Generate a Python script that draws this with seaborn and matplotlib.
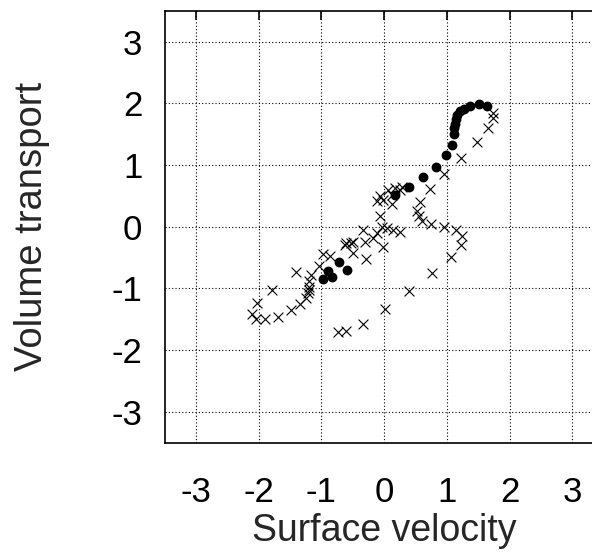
import matplotlib
matplotlib.use("Agg")
import matplotlib.pyplot as plt
import seaborn as sns
import pandas as pd

# Filled circles (surface velocity, volume transport)
dot_x = [1.64, 1.51, 1.37, 1.27, 1.21, 1.17, 1.14, 1.13, 1.12, 1.11, 1.08, 0.99,
         0.82, 0.62, 0.39, 0.18, -0.72, -0.59, -0.89, -0.83, -0.97]
dot_y = [1.96, 1.98, 1.96, 1.91, 1.87, 1.81, 1.74, 1.67, 1.60, 1.50, 1.33, 1.16,
         0.97, 0.80, 0.64, 0.51, -0.57, -0.70, -0.72, -0.81, -0.85]

# Crosses
cross_x = [1.73, 1.74, 1.65, 1.48, 1.23, 0.95, 0.73, 0.57, 0.53, 0.56, 0.60, 0.75,
           0.95, 1.14, 1.25, 1.23, 1.06, 0.77, 0.40, 0.02, -0.33, -0.60, -0.74,
           0.28, 0.25, 0.17, 0.06, 0.12, -0.07, -0.02, -0.12, 0.12, -0.07, -0.03,
           0.04, 0.14, 0.25, -0.12, -0.18, -0.02, -0.33, -0.31, -0.49, -0.60, -0.52,
           -0.63, -0.50, -0.29,
           -0.87, -0.97, -1.04, -1.41, -1.16, -1.19, -1.20, -1.19, -1.21, -1.25,
           -1.34, -1.49, -1.69, -1.90, -2.05, -2.11, -2.03, -1.79]
cross_y = [1.85, 1.76, 1.60, 1.38, 1.12, 0.86, 0.61, 0.40, 0.25, 0.17, 0.10, 0.05,
           0.00, -0.06, -0.15, -0.29, -0.49, -0.75, -1.05, -1.33, -1.57, -1.69, -1.71,
           0.65, 0.60, 0.63, 0.60, 0.52, 0.49, 0.44, 0.41, 0.36, 0.17, 0.00,
           -0.02, -0.05, -0.08, -0.10, -0.18, -0.33, -0.06, -0.24, -0.24, -0.26, -0.26,
           -0.29, -0.43, -0.53,
           -0.47, -0.45, -0.64, -0.74, -0.79, -0.88, -0.97, -1.02, -1.07, -1.15,
           -1.26, -1.35, -1.46, -1.50, -1.49, -1.41, -1.23, -1.02]

ticks = [-3, -2, -1, 0, 1, 2, 3]
tick_labels = ["-3", "-2", "-1", "0", "1", "2", "3"]

sns.set_style("white")
plt.rcParams['font.family'] = ['Liberation Sans', 'DejaVu Sans']
plt.rcParams['axes.unicode_minus'] = False

fig = plt.figure(figsize=(5.92, 5.54), dpi=100)
ax = fig.add_axes([0.278, 0.2009, 0.7416, 0.7798])

dots = pd.DataFrame({"x": dot_x, "y": dot_y})
crosses = pd.DataFrame({"x": cross_x, "y": cross_y})

sns.scatterplot(data=crosses, x="x", y="y", marker="x", s=50, color="black",
                linewidth=0.8, ax=ax, zorder=3)
sns.scatterplot(data=dots, x="x", y="y", marker="o", s=50, color="black",
                edgecolor="black", linewidth=0, ax=ax, zorder=4)

ax.set_xlim(-3.5, 3.5)
ax.set_ylim(-3.5, 3.5)
ax.set_xticks(ticks)
ax.set_xticklabels(tick_labels)
ax.set_yticks(ticks)
ax.set_yticklabels(tick_labels)
ax.grid(True, linestyle=(0, (1, 2)), color="black", linewidth=0.8)
ax.set_axisbelow(True)

for s in ax.spines.values():
    s.set_color("black")
    s.set_linewidth(1.2)

ax.tick_params(axis="both", direction="in", length=6.5, width=1.2,
               labelsize=25, colors="black")
ax.tick_params(axis="x", top=True, pad=24)
ax.tick_params(axis="y", right=True, pad=16)

ax.set_xlabel("Surface velocity", fontsize=27, labelpad=3)
ax.set_ylabel("Volume transport", fontsize=27.5, labelpad=44)

fig.savefig("out.png", dpi=100)
